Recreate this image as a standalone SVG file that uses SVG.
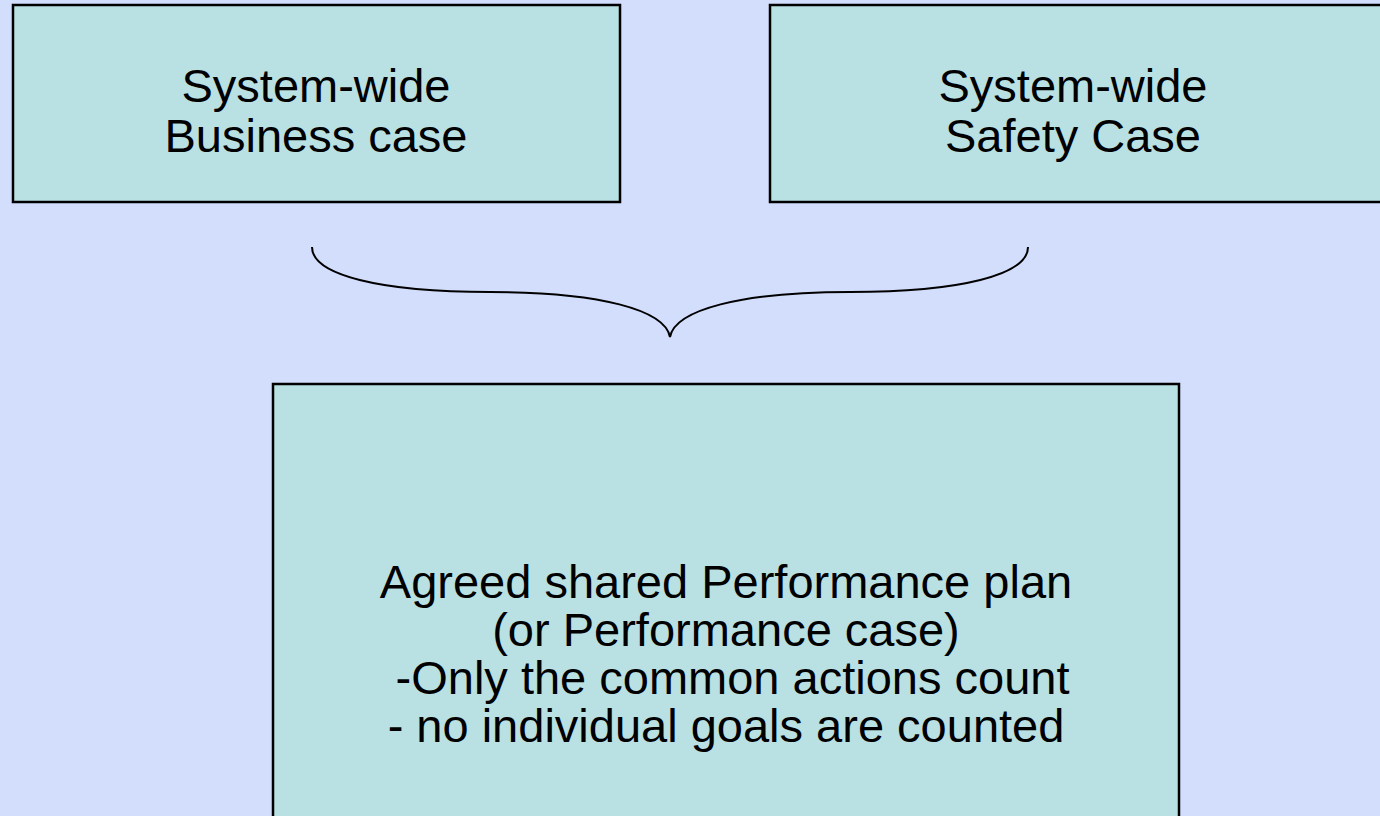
<svg xmlns="http://www.w3.org/2000/svg" width="1380" height="816" viewBox="0 0 1380 816">
  <style>
    .box { fill: #B9E0E3; stroke: #000; stroke-width: 2.5; }
    .lbl { font-family: "Liberation Sans", Arial, sans-serif; font-size: 47px; fill: #000; text-anchor: middle; }
    .brace { fill: none; stroke: #000; stroke-width: 2; }
  </style>
  <rect width="1380" height="816" fill="#D3DEFC"/>
  <g id="business-case">
    <rect class="box" x="13" y="5" width="607" height="197"/>
    <text class="lbl" x="316" y="102">System-wide</text>
    <text class="lbl" x="316" y="152">Business case</text>
  </g>
  <g id="safety-case">
    <rect class="box" x="770" y="5" width="640" height="197"/>
    <text class="lbl" x="1073" y="102">System-wide</text>
    <text class="lbl" x="1073" y="152">Safety Case</text>
  </g>
  <g id="connectors">
    <path class="brace" d="M312,247 C312,275 380,292 490,292 C600,292 665,310 670,337 C675,310 740,292 850,292 C960,292 1028,275 1028,247"/>
  </g>
  <g id="performance-plan">
    <rect class="box" x="273" y="384" width="906" height="460"/>
    <text class="lbl" x="726" y="598">Agreed shared Performance plan</text>
    <text class="lbl" x="726" y="646">(or Performance case)</text>
    <text class="lbl" x="726" y="694">&#160;-Only the common actions count</text>
    <text class="lbl" x="726" y="742">- no individual goals are counted</text>
  </g>
</svg>
